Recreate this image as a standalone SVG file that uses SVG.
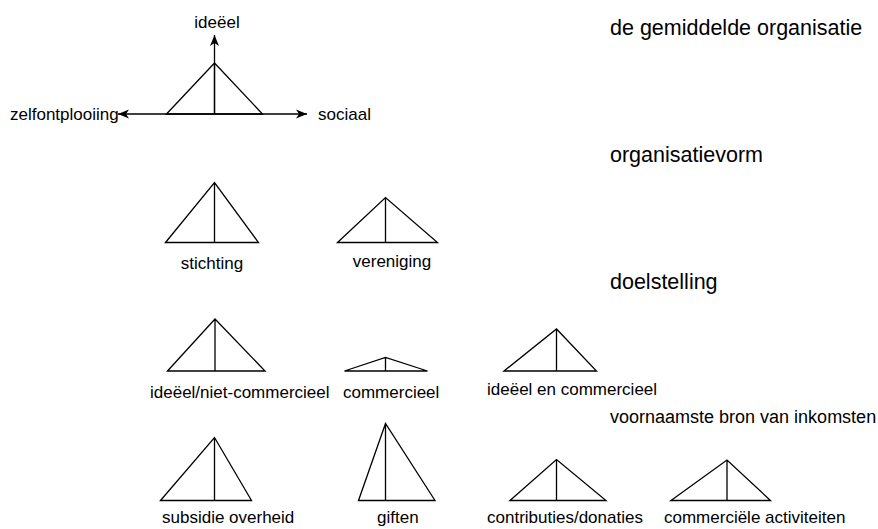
<svg xmlns="http://www.w3.org/2000/svg" width="878" height="529" viewBox="0 0 878 529">
<style>
.tri{fill:none;stroke:#000;stroke-width:1.3;stroke-linejoin:miter}
.ax{fill:none;stroke:#000;stroke-width:1.3}
text{font-family:"Liberation Sans",Arial,sans-serif;fill:#000}
.lbl{font-size:17px}
.hd{font-size:21.5px}
.hd2{font-size:18px}
</style>
<defs>
<marker id="arr" viewBox="-12 -5 13 10" refX="0" refY="0" markerWidth="13" markerHeight="10" markerUnits="userSpaceOnUse" orient="auto">
<path d="M0,0 L-11,-4.5 L-8,0 L-11,4.5 Z" fill="#000"/>
</marker>
</defs>
<rect width="878" height="529" fill="#fff"/>

<g id="headings">
<text class="hd" x="610" y="35">de gemiddelde organisatie</text>
<text class="hd" x="610" y="162">organisatievorm</text>
<text class="hd" x="610" y="289">doelstelling</text>
<text class="hd2" x="610" y="423">voornaamste bron van inkomsten</text>
</g>

<g id="connectors">
<line class="ax" x1="214.5" y1="114" x2="214.5" y2="35" marker-end="url(#arr)"/>
<line class="ax" x1="214.5" y1="114" x2="307" y2="114" marker-end="url(#arr)"/>
<line class="ax" x1="214.5" y1="114" x2="118" y2="114" marker-end="url(#arr)"/>
</g>

<g id="gemiddeld">
<path class="tri" d="M166.5,114 L214.5,63 L262.5,114 Z M214.5,63 L214.5,114"/>
<text class="lbl" x="217" y="28" text-anchor="middle">ideëel</text>
<text class="lbl" x="10" y="120">zelfontplooiing</text>
<text class="lbl" x="318" y="120">sociaal</text>
</g>

<g id="stichting">
<path class="tri" d="M165.5,242.5 L214.5,182.5 L258.5,242.5 Z M214.5,182.5 L214.5,242.5"/>
<text class="lbl" x="212" y="269" text-anchor="middle">stichting</text>
</g>
<g id="vereniging">
<path class="tri" d="M337.5,242.5 L385.5,197.5 L437.5,242.5 Z M385.5,197.5 L385.5,242.5"/>
<text class="lbl" x="392" y="267" text-anchor="middle">vereniging</text>
</g>

<g id="ideeel">
<path class="tri" d="M167.5,371 L215,319 L265,371 Z M215,319 L215,371"/>
<text class="lbl" x="150" y="398">ideëel/niet-commercieel</text>
</g>
<g id="commercieel">
<path class="tri" d="M344.5,371 L385.5,357.5 L427.5,371 Z M385.5,357.5 L385.5,371"/>
<text class="lbl" x="343" y="398">commercieel</text>
</g>
<g id="ideeel-en-commercieel">
<path class="tri" d="M504,371 L556.5,329 L596.5,371 Z M556.5,329 L556.5,371"/>
<text class="lbl" x="487" y="395">ideëel en commercieel</text>
</g>

<g id="subsidie">
<path class="tri" d="M160.5,500.5 L214.5,437.5 L251.5,500.5 Z M214.5,437.5 L214.5,500.5"/>
<text class="lbl" x="162" y="523">subsidie overheid</text>
</g>
<g id="giften">
<path class="tri" d="M358.5,500.5 L385.5,423.5 L435,500.5 Z M385.5,423.5 L385.5,500.5"/>
<text class="lbl" x="377" y="523">giften</text>
</g>
<g id="contributies">
<path class="tri" d="M510,500.5 L556.5,459.5 L606,500.5 Z M556.5,459.5 L556.5,500.5"/>
<text class="lbl" x="487" y="523">contributies/donaties</text>
</g>
<g id="commerciele">
<path class="tri" d="M671,500.5 L727,460 L770.5,500.5 Z M727,460 L727,500.5"/>
<text class="lbl" x="664" y="523">commerciële activiteiten</text>
</g>
</svg>
